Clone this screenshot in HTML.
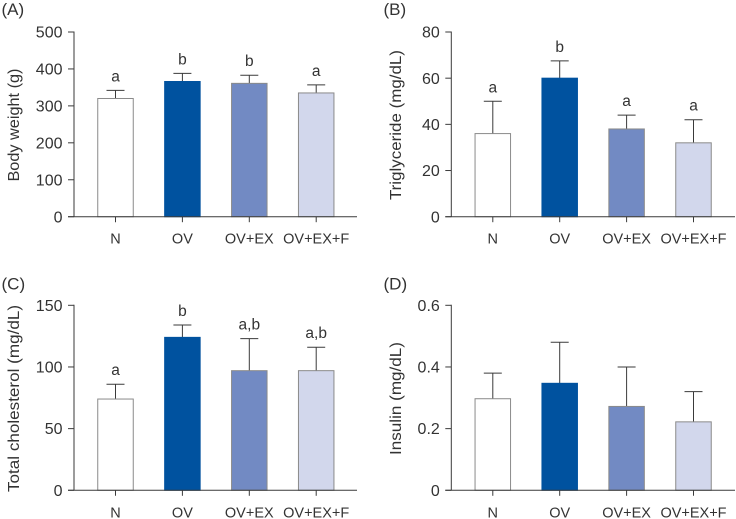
<!DOCTYPE html>
<html>
<head>
<meta charset="utf-8">
<style>
html,body{margin:0;padding:0;background:#fff;}
svg{display:block;font-family:"Liberation Sans",sans-serif;}
</style>
</head>
<body>
<svg id="chart" width="736" height="519" viewBox="0 0 736 519" xmlns="http://www.w3.org/2000/svg"></svg>
<script>
const categories = ['N', 'OV', 'OV+EX', 'OV+EX+F'];
const fills = ['#ffffff', '#00529f', '#728ac3', '#d2d7ec'];

const bodyWeightValues = [320, 366, 361, 335];
const bodyWeightErrorTops = [342, 388, 383, 357];
const bodyWeightLetters = ['a', 'b', 'b', 'a'];
const bodyWeightTicks = ['0', '100', '200', '300', '400', '500'];

const triglycerideValues = [36, 60, 38, 32];
const triglycerideErrorTops = [50, 67.5, 44, 42];
const triglycerideLetters = ['a', 'b', 'a', 'a'];
const triglycerideTicks = ['0', '20', '40', '60', '80'];

const cholesterolValues = [74, 124, 97, 97];
const cholesterolErrorTops = [86, 134, 123, 116];
const cholesterolLetters = ['a', 'b', 'a,b', 'a,b'];
const cholesterolTicks = ['0', '50', '100', '150'];

const insulinValues = [0.297, 0.347, 0.272, 0.222];
const insulinErrorTops = [0.38, 0.48, 0.40, 0.32];
const insulinLetters = ['', '', '', ''];
const insulinTicks = ['0', '0.2', '0.4', '0.6'];

const panels = [
  {key:'a', tag:'(A)', tagX:1.5, tagY:15, title:'Body weight (g)', titleLen:113, axisX:74, top:32, bottom:216.7, right:357, titleX:19,
   values:bodyWeightValues, tops:bodyWeightErrorTops, letters:bodyWeightLetters, ticks:bodyWeightTicks},
  {key:'b', tag:'(B)', tagX:383.5, tagY:15, title:'Triglyceride (mg/dL)', titleLen:150, axisX:451.3, top:32, bottom:216.7, right:735, titleX:401,
   values:triglycerideValues, tops:triglycerideErrorTops, letters:triglycerideLetters, ticks:triglycerideTicks},
  {key:'c', tag:'(C)', tagX:1.5, tagY:289.5, title:'Total cholesterol (mg/dL)', titleLen:187, axisX:74, top:305.3, bottom:490.3, right:357, titleX:19,
   values:cholesterolValues, tops:cholesterolErrorTops, letters:cholesterolLetters, ticks:cholesterolTicks},
  {key:'d', tag:'(D)', tagX:383.5, tagY:289.5, title:'Insulin (mg/dL)', titleLen:113, axisX:451.3, top:305.3, bottom:490.3, right:735, titleX:401,
   values:insulinValues, tops:insulinErrorTops, letters:insulinLetters, ticks:insulinTicks}
];

const svg = document.getElementById('chart');
const NS = 'http://www.w3.org/2000/svg';
const ink = '#333333';

function make(tag, attrs, parent, text) {
  const el = document.createElementNS(NS, tag);
  for (const k in attrs) el.setAttribute(k, attrs[k]);
  if (text !== undefined) el.textContent = text;
  parent.appendChild(el);
  return el;
}

panels.forEach(function (p) {
  const g = make('g', {}, svg);
  
  

  const tickNums = p.ticks.map(Number);
  const maxV = Math.max.apply(null, tickNums);
  const yScale = function (v) { return p.bottom - (v / maxV) * (p.bottom - p.top); };
  const xScale = function (i) { return p.axisX + 41.5 + i * 66.9; };
  const barW = 35.5;

  const tagEl = make('text', {x:p.tagX, y:p.tagY, 'font-size':17, fill:ink}, g, p.tag);
  
  

  const midY = (p.top + p.bottom) / 2 + 0.7;
  const titleEl = make('text', {
    x:p.titleX, y:midY, 'font-size':16, fill:ink, 'text-anchor':'middle',
    textLength:p.titleLen, lengthAdjust:'spacingAndGlyphs',
    transform:'rotate(-90 ' + p.titleX + ' ' + midY + ')'
  }, g, p.title);
  
  

  categories.forEach(function (c, i) {
    const cx = xScale(i);
    const yTop = yScale(p.tops[i]);
    const yVal = yScale(p.values[i]);

    const stem = make('line', {x1:cx, x2:cx, y1:yTop, y2:yVal, stroke:'#3a3a3a', 'stroke-width':1}, g);
    
    

    const cap = make('line', {x1:cx - 9, x2:cx + 9, y1:yTop, y2:yTop, stroke:'#3a3a3a', 'stroke-width':1}, g);
    
    

    const bar = make('rect', {
      x:cx - barW / 2, y:yVal, width:barW, height:p.bottom - yVal, fill:fills[i],
      stroke:i === 1 ? '#00529f' : '#8a8a8a', 'stroke-width':1
    }, g);
    
    

    if (p.letters[i]) {
      const letter = make('text', {x:cx, y:yTop - 9, 'font-size':15.5, fill:ink, 'text-anchor':'middle'}, g, p.letters[i]);
      
      
    }

    const xt = make('line', {x1:cx, x2:cx, y1:p.bottom, y2:p.bottom + 5.5, stroke:'#3a3a3a', 'stroke-width':1}, g);
    
    

    const xl = make('text', {x:cx, y:p.bottom + 27, 'font-size':14.5, fill:ink, 'text-anchor':'middle'}, g, c);
    
    
  });

  const yAxis = make('line', {x1:p.axisX, x2:p.axisX, y1:p.top - 0.5, y2:p.bottom, stroke:'#3a3a3a', 'stroke-width':1}, g);
  
  

  const xAxis = make('line', {x1:p.axisX - 6, x2:p.right, y1:p.bottom, y2:p.bottom, stroke:'#3a3a3a', 'stroke-width':1}, g);
  
  

  p.ticks.forEach(function (t) {
    const y = yScale(Number(t));
    const tick = make('line', {x1:p.axisX - 6, x2:p.axisX, y1:y, y2:y, stroke:'#3a3a3a', 'stroke-width':1}, g);
    
    

    const lab = make('text', {x:p.axisX - 11.5, y:y + 5.6, 'font-size':16, fill:ink, 'text-anchor':'end'}, g, t);
    
    
  });
});
</script>
</body>
</html>
